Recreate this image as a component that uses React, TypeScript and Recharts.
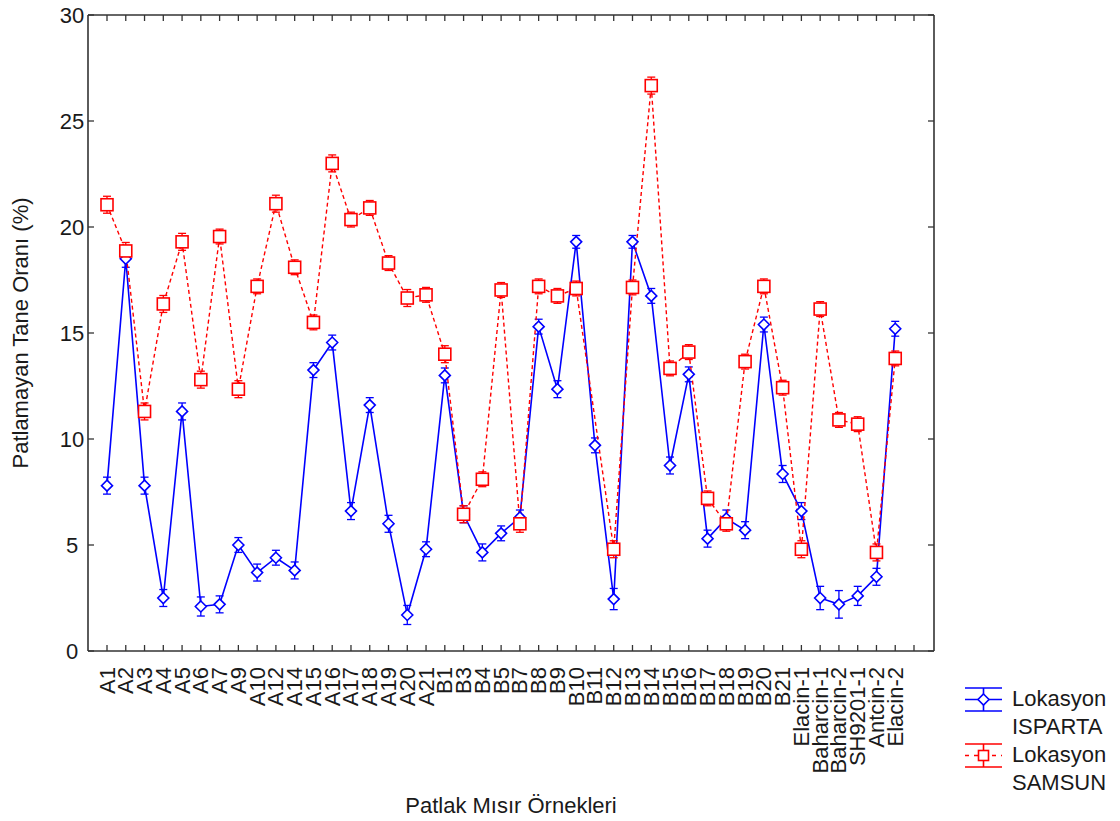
import React from "react"
import { LineChart, Line, XAxis, YAxis, ErrorBar } from "recharts"

// sample names along the x axis (last slot is an empty tick, as in the original)
const categories = [
  "A1", "A2", "A3", "A4", "A5", "A6", "A7", "A9", "A10", "A12", "A14", "A15", "A16", "A17", "A18", "A19", "A20", "A21",
  "B1", "B3", "B4", "B5", "B7", "B8", "B9", "B10", "B11", "B12", "B13", "B14", "B15", "B16", "B17", "B18", "B19", "B20", "B21",
  "Elacin-1", "Baharcin-1", "Baharcin-2", "SH9201-1", "Antcin-2", "Elacin-2", "",
]

// Lokasyon ISPARTA
const isparta = [
  7.8, 18.5, 7.8, 2.5, 11.3, 2.1, 2.2, 5.0, 3.7, 4.4, 3.8, 13.25, 14.55, 6.6, 11.6, 6.0, 1.7, 4.8,
  13.0, 6.45, 4.65, 5.55, 6.3, 15.3, 12.35, 19.3, 9.7, 2.45, 19.3, 16.75, 8.75, 13.05, 5.3, 6.25, 5.7, 15.4, 8.35,
  6.6, 2.5, 2.2, 2.6, 3.5, 15.2, null,
]
const ispartaErr = [
  0.4, 0.4, 0.4, 0.4, 0.4, 0.45, 0.4, 0.35, 0.4, 0.35, 0.4, 0.35, 0.35, 0.4, 0.35, 0.4, 0.45, 0.35,
  0.35, 0.4, 0.4, 0.35, 0.35, 0.35, 0.4, 0.3, 0.35, 0.5, 0.3, 0.35, 0.4, 0.35, 0.4, 0.4, 0.4, 0.35, 0.4,
  0.4, 0.55, 0.65, 0.45, 0.4, 0.35, null,
]

// Lokasyon SAMSUN
const samsun = [
  21.05, 18.87, 11.3, 16.37, 19.3, 12.8, 19.55, 12.35, 17.2, 21.1, 18.1, 15.5, 23.0, 20.35, 20.9, 18.3, 16.65, 16.8,
  14.0, 6.45, 8.1, 17.03, 6.0, 17.2, 16.75, 17.1, null, 4.8, 17.15, 26.67, 13.33, 14.1, 7.2, 6.0, 13.65, 17.2, 12.42,
  4.8, 16.13, 10.9, 10.7, 4.65, 13.8, null,
]
const samsunErr = [
  0.4, 0.4, 0.4, 0.4, 0.4, 0.4, 0.35, 0.4, 0.35, 0.4, 0.35, 0.35, 0.4, 0.35, 0.35, 0.35, 0.4, 0.35,
  0.4, 0.4, 0.35, 0.35, 0.4, 0.35, 0.35, 0.35, null, 0.4, 0.35, 0.4, 0.35, 0.35, 0.35, 0.35, 0.35, 0.35, 0.35,
  0.4, 0.35, 0.35, 0.35, 0.4, 0.35, null,
]

const yTicks = [0, 5, 10, 15, 20, 25, 30]

const data = categories.map((name, i) => ({
  name,
  isparta: isparta[i],
  ispartaErr: ispartaErr[i],
  samsun: samsun[i],
  samsunErr: samsunErr[i],
}))

const FONT = "Arial, 'Liberation Sans', sans-serif"
const AXIS = "#333"
const TEXT = "#1a1a1a"
const BLUE = "#0000ff"
const RED = "#ff0000"

const Diamond = (props: any) => {
  const { cx, cy, value } = props
  if (value == null || cx == null || cy == null) return <g />
  const r = 5.5
  return (
    <polygon
      points={`${cx},${cy - r} ${cx + r},${cy} ${cx},${cy + r} ${cx - r},${cy}`}
      fill="#fff"
      stroke={BLUE}
      strokeWidth={1.6}
    />
  )
}

const Square = (props: any) => {
  const { cx, cy, value } = props
  if (value == null || cx == null || cy == null) return <g />
  const r = 6
  return <rect x={cx - r} y={cy - r} width={2 * r} height={2 * r} fill="#fff" stroke={RED} strokeWidth={1.6} />
}

const BottomTick = (props: any) => {
  const { x, y, payload } = props
  const axisY = y - 16
  return (
    <g>
      <line x1={x} y1={axisY} x2={x} y2={axisY - 6} stroke={AXIS} strokeWidth={1.3} />
      <text
        x={x}
        y={y}
        transform={`rotate(-90 ${x} ${y})`}
        textAnchor="end"
        dominantBaseline="central"
        fontSize={22}
        fontFamily={FONT}
        fill={TEXT}
      >
        {payload.value}
      </text>
    </g>
  )
}

const TopTick = (props: any) => {
  const { x, y } = props
  return <line x1={x} y1={y} x2={x} y2={y + 6} stroke={AXIS} strokeWidth={1.3} />
}

const LeftTick = (props: any) => {
  const { x, y, payload } = props
  const axisX = x + 16
  return (
    <g>
      <line x1={axisX} y1={y} x2={axisX + 6} y2={y} stroke={AXIS} strokeWidth={1.3} />
      <text x={x} y={y} textAnchor="middle" dominantBaseline="central" fontSize={22} fontFamily={FONT} fill={TEXT}>
        {payload.value}
      </text>
    </g>
  )
}

const RightTick = (props: any) => {
  const { x, y } = props
  return <line x1={x} y1={y} x2={x - 6} y2={y} stroke={AXIS} strokeWidth={1.3} />
}

const LegendIcon = ({ color, dashed, square, top }: { color: string; dashed?: boolean; square?: boolean; top: number }) => (
  <svg width={42} height={26} style={{ position: "absolute", left: 963, top }}>
    <line x1={2} y1={1} x2={39} y2={1} stroke={color} strokeWidth={1.6} />
    <line x1={2} y1={24} x2={39} y2={24} stroke={color} strokeWidth={1.6} />
    <line x1={20.5} y1={1} x2={20.5} y2={24} stroke={color} strokeWidth={1.6} />
    <line x1={2} y1={12.5} x2={39} y2={12.5} stroke={color} strokeWidth={1.6} strokeDasharray={dashed ? "4 5" : undefined} />
    {square ? (
      <rect x={15.5} y={7.5} width={10} height={10} fill="#fff" stroke={color} strokeWidth={1.6} />
    ) : (
      <polygon points="20.5,7 26,12.5 20.5,18 15,12.5" fill="#fff" stroke={color} strokeWidth={1.6} />
    )}
  </svg>
)

const legendText: React.CSSProperties = {
  position: "absolute",
  left: 1012,
  fontSize: 22,
  lineHeight: "28px",
  color: TEXT,
  whiteSpace: "nowrap",
}

export default function App() {
  return (
    <div style={{ position: "absolute", left: 0, top: 0, width: 1120, height: 821, background: "#fff", fontFamily: FONT }}>
      <LineChart width={1120} height={821} data={data} margin={{ top: 14, right: 185, bottom: 50, left: 28 }}>
        <XAxis
          dataKey="name"
          scale="point"
          padding={{ left: 19, right: 20 }}
          interval={0}
          height={120}
          tickSize={0}
          tickMargin={16}
          tick={<BottomTick />}
          axisLine={{ stroke: AXIS, strokeWidth: 1.6 }}
          tickLine={false}
        />
        <XAxis
          xAxisId="top"
          dataKey="name"
          orientation="top"
          scale="point"
          padding={{ left: 19, right: 20 }}
          interval={0}
          height={1}
          tickSize={0}
          tickMargin={0}
          tick={<TopTick />}
          axisLine={{ stroke: AXIS, strokeWidth: 1.6 }}
          tickLine={false}
        />
        <YAxis
          type="number"
          domain={[0, 30]}
          ticks={yTicks}
          interval={0}
          width={60}
          tickSize={0}
          tickMargin={16}
          tick={<LeftTick />}
          axisLine={{ stroke: AXIS, strokeWidth: 1.6 }}
          tickLine={false}
        />
        <YAxis
          yAxisId="right"
          orientation="right"
          type="number"
          domain={[0, 30]}
          ticks={yTicks}
          interval={0}
          width={1}
          tickSize={0}
          tickMargin={0}
          tick={<RightTick />}
          axisLine={{ stroke: AXIS, strokeWidth: 1.6 }}
          tickLine={false}
        />
        {/* invisible series so the frame axes get a domain */}
        <Line
          xAxisId="top"
          yAxisId="right"
          dataKey="isparta"
          stroke="none"
          dot={false}
          activeDot={false}
          legendType="none"
          isAnimationActive={false}
        />
        <Line
          dataKey="isparta"
          stroke={BLUE}
          strokeWidth={1.6}
          dot={<Diamond />}
          activeDot={false}
          isAnimationActive={false}
        >
          <ErrorBar dataKey="ispartaErr" width={4} stroke={BLUE} strokeWidth={1.3} />
        </Line>
        <Line
          dataKey="samsun"
          stroke={RED}
          strokeWidth={1.4}
          strokeDasharray="4 3"
          dot={<Square />}
          activeDot={false}
          connectNulls
          isAnimationActive={false}
        >
          <ErrorBar dataKey="samsunErr" width={4} stroke={RED} strokeWidth={1.3} />
        </Line>
      </LineChart>

      <div
        style={{
          position: "absolute",
          left: 21,
          top: 333,
          transform: "translate(-50%, -50%) rotate(-90deg)",
          fontSize: 22,
          color: TEXT,
          whiteSpace: "nowrap",
        }}
      >
        Patlamayan Tane Oranı (%)
      </div>
      <div
        style={{
          position: "absolute",
          left: 511,
          top: 806,
          transform: "translate(-50%, -50%)",
          fontSize: 22,
          color: TEXT,
          whiteSpace: "nowrap",
        }}
      >
        Patlak Mısır Örnekleri
      </div>

      <LegendIcon color={BLUE} top={687} />
      <div style={{ ...legendText, top: 685 }}>
        Lokasyon
        <br />
        ISPARTA
      </div>
      <LegendIcon color={RED} dashed square top={743} />
      <div style={{ ...legendText, top: 741 }}>
        Lokasyon
        <br />
        SAMSUN
      </div>
    </div>
  )
}
